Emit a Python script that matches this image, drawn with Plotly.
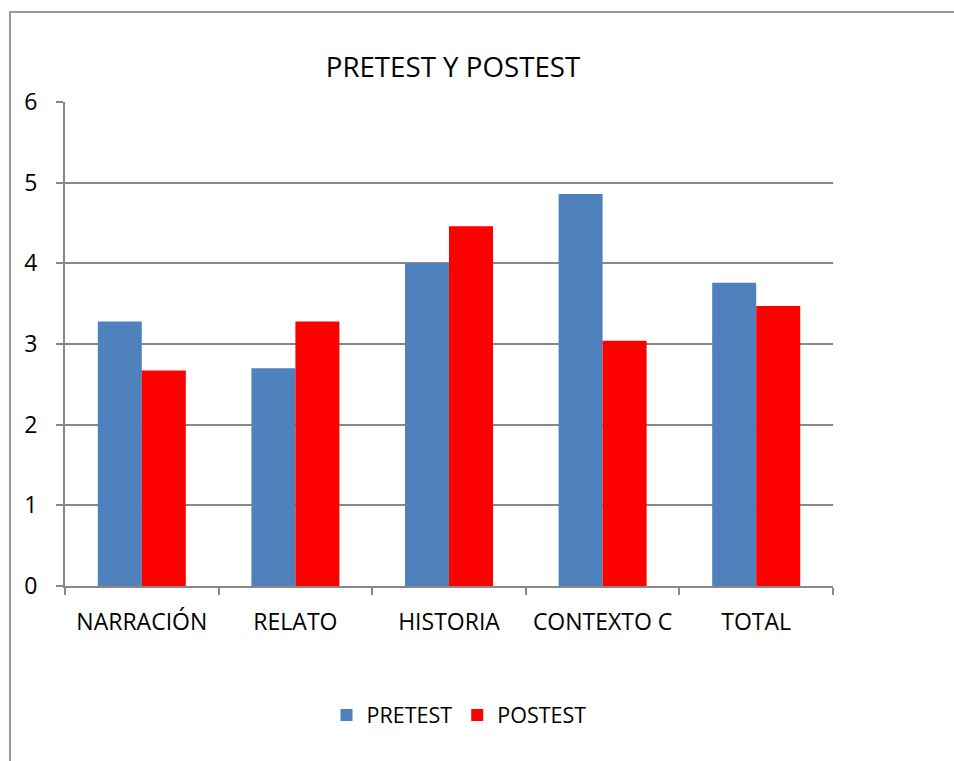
import plotly.graph_objects as go

categories = ["NARRACIÓN", "RELATO", "HISTORIA", "CONTEXTO C", "TOTAL"]
pretest = [3.28, 2.70, 4.00, 4.86, 3.76]
postest = [2.67, 3.28, 4.46, 3.04, 3.47]
y_ticks = [0, 1, 2, 3, 4, 5, 6]

FONT = "Open Sans"
GRID = "#888888"

fig = go.Figure()
fig.add_trace(go.Bar(name="PRETEST", x=categories, y=pretest, marker_color="#4F81BD", marker_line_width=0))
fig.add_trace(go.Bar(name="POSTEST", x=categories, y=postest, marker_color="#FF0000", marker_line_width=0))

W, H = 954, 761
L, R, T, B = 65, 121, 102, 175
pw = W - L - R
ph = H - T - B

fig.update_layout(
    width=W, height=H,
    margin=dict(l=L, r=R, t=T, b=B, pad=0),
    paper_bgcolor="white", plot_bgcolor="white",
    barmode="group", bargap=0.427, bargroupgap=0,
    font=dict(family=FONT, size=22, color="black"),
    title=dict(text="PRETEST Y POSTEST", x=(453 - L) / pw, xref="paper", xanchor="center",
               y=1 - 67 / H, yanchor="middle", font=dict(family=FONT, size=27.7, color="black")),
    showlegend=True,
    legend=dict(orientation="h", x=(459 - L) / pw, xanchor="center", y=-(715 - 586) / ph, yanchor="middle",
                font=dict(family=FONT, size=21.5, color="black"), traceorder="normal", itemwidth=30),
    xaxis=dict(type="category", showline=True, linecolor=GRID, linewidth=2, ticks="outside",
               tickson="boundaries", ticklen=7, tickcolor=GRID, tickwidth=2, showgrid=False,
               tickfont=dict(family=FONT, size=23, color="black"), ticklabelstandoff=14),
    yaxis=dict(range=[0, 6], tickvals=y_ticks, showline=True, linecolor=GRID, linewidth=2,
               ticks="outside", ticklen=7, tickcolor=GRID, tickwidth=2, showgrid=True,
               gridcolor=GRID, gridwidth=2, zeroline=False,
               tickfont=dict(family=FONT, size=23, color="black"), ticklabelstandoff=14),
)

fig.add_shape(type="rect", xref="paper", yref="paper",
              x0=(10 - L) / pw, x1=(W + 50 - L) / pw,
              y0=-(H + 50 - (H - B)) / ph, y1=(H - B - 12) / ph,
              line=dict(color="#999999", width=2), fillcolor="rgba(0,0,0,0)", layer="below")

fig.write_html("out.html", config={"displayModeBar": False},
               post_script="document.body.style.margin='0';document.body.style.overflow='hidden';")
